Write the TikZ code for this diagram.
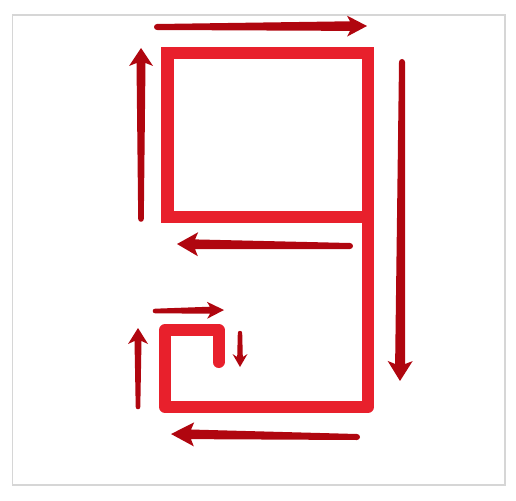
\documentclass[tikz,border=0pt]{standalone}
\usepackage{tikz}
\definecolor{digitred}{HTML}{E8202C}
\definecolor{arrowred}{HTML}{B0060F}
\definecolor{framegray}{HTML}{D6D6D6}
\tikzset{
  digitline/.style={draw=digitred,line width=12.5pt},
  arrowfill/.style={fill=arrowred},
  frameline/.style={draw=framegray,line width=1.5pt}
}
% #1,#2 start; #3,#4 tip; #5 head length; #6 head half width; #7 shaft half width; #8 tail half width
\newcommand\brusharrow[8]{%
  \pgfmathsetmacro\bL{veclen(#3-#1,#4-#2)}%
  \pgfmathsetmacro\bA{atan2(#2-#4,#3-#1)}%
  \begin{scope}[shift={(#1,#2)},rotate=\bA]
    \fill[arrowfill] (0,#8) -- ({\bL-#5+3},#7) -- ({\bL-#5},#6) -- (\bL,0)
      -- ({\bL-#5},-#6) -- ({\bL-#5+3},-#7) -- (0,-#8)
      arc[start angle=-90,end angle=-270,radius=#8] -- cycle;
  \end{scope}}
\begin{document}
\begin{tikzpicture}[x=1pt,y=-1pt]
\useasboundingbox (0,0) rectangle (516,500);
\draw[frameline] (12.5,15) rectangle (505,485);
% the digit 9
\coordinate (tl) at (167.5,53);
\coordinate (br) at (368,217);
\draw[digitline,line join=miter] (tl) rectangle (br);
\coordinate (rv) at (368,211);
\coordinate (bc) at (368,407);
\coordinate (bl) at (165,407);
\coordinate (hl) at (165,330);
\coordinate (hr) at (218.5,330);
\coordinate (he) at (218.5,362);
\draw[digitline,line join=round,line cap=round,line width=12pt] (rv) -- (bc) -- (bl) -- (hl) -- (hr) -- (he);
% arrows
\brusharrow{157}{27}{367}{26}{20}{10.5}{4.8}{3}
\brusharrow{141}{219}{141}{48}{18}{12}{4.5}{2.8}
\brusharrow{402}{62}{400}{381}{20}{12.5}{5}{3}
\brusharrow{350}{246}{177}{244}{21}{12}{4.8}{3}
\brusharrow{155}{311}{224}{310}{17}{8.5}{3.5}{2.3}
\brusharrow{138}{407}{138}{328}{16}{10}{3.5}{2.3}
\brusharrow{240}{333}{240}{367}{13}{7.5}{2.8}{2.2}
\brusharrow{357}{437}{171}{434}{23}{12}{4.8}{3}
\end{tikzpicture}
\end{document}
